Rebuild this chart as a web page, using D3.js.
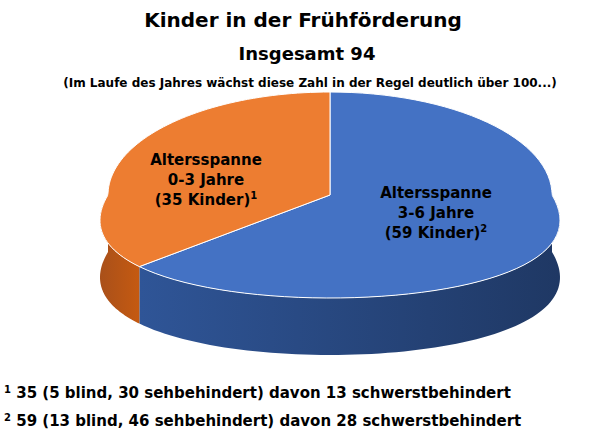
<!DOCTYPE html>
<html><head><meta charset="utf-8">
<script src="https://cdn.jsdelivr.net/npm/d3@7"></script>
<style>body{margin:0;background:#fff}text{font-family:"DejaVu Sans",sans-serif;font-weight:bold}</style>
</head><body>
<svg width="600" height="443"></svg>
<script>
var categories = ["3-6 Jahre", "0-3 Jahre"];
var values = [59, 35];
var labelLines = [["Altersspanne", "3-6 Jahre", "(59 Kinder)"], ["Altersspanne", "0-3 Jahre", "(35 Kinder)"]];
var footnoteMarks = ["2", "1"];
var footnotes = ["35 (5 blind, 30 sehbehindert) davon 13 schwerstbehindert",
                 "59 (13 blind, 46 sehbehindert) davon 28 schwerstbehindert"];

var svg = d3.select("svg");
var cx = 330, cy = 195, rx = 222, ry = 103, depth = 57, persp = 0.28;
var topColors = ["#4472c4", "#ed7d31"];
var sideColors = [["#1f3864", "#2f5597"], ["#a9501a", "#c55a11"]];

svg.append("text").attr("x", 303).attr("y", 27).attr("text-anchor", "middle").attr("font-size", 20).text("Kinder in der Frühförderung");
svg.append("text").attr("x", 307).attr("y", 60).attr("text-anchor", "middle").attr("font-size", 18).text("Insgesamt 94");
svg.append("text").attr("x", 310).attr("y", 87).attr("text-anchor", "middle").attr("font-size", 12).text("(Im Laufe des Jahres wächst diese Zahl in der Regel deutlich über 100...)");

var pie = d3.pie().sort(null).value(function(d) { return d; });
var arcs = pie(values);
// slight perspective: front of the pie drawn wider than the back
function pt(t, dy) {
  var c = Math.cos(t), s = Math.sin(t);
  var f = 1 - persp * Math.min(c, 0) + 0.1 * Math.max(-c, 0) * 0;
  return [cx + rx * s * f, cy - ry * c + (dy || 0)];
}
function arcPts(a0, a1, dy) {
  var n = 80, p = [];
  for (var i = 0; i <= n; i++) p.push(pt(a0 + (a1 - a0) * i / n, dy));
  return p;
}
var defs = svg.append("defs");
sideColors.forEach(function(c, i) {
  var g = defs.append("linearGradient").attr("id", "side" + i).attr("x1", 0).attr("x2", 1).attr("y1", 0).attr("y2", 0);
  g.append("stop").attr("offset", "0%").attr("stop-color", i == 0 ? c[1] : c[0]);
  g.append("stop").attr("offset", "100%").attr("stop-color", i == 0 ? c[0] : c[1]);
});
var line = d3.line();
arcs.forEach(function(a, i) {
  var s = Math.max(a.startAngle, Math.PI / 2), e = Math.min(a.endAngle, 3 * Math.PI / 2);
  if (e <= s) return;
  var p = arcPts(s, e, 0).concat(arcPts(e, s, depth));
  svg.append("path").attr("d", line(p) + "Z").attr("fill", "url(#side" + i + ")");
});
arcs.forEach(function(a, i) {
  var p = [[cx, cy]].concat(arcPts(a.startAngle, a.endAngle, 0));
  svg.append("path").attr("d", line(p) + "Z").attr("fill", topColors[i]).attr("stroke", "#fff").attr("stroke-width", 1);
});
var labelPos = [[436, 198], [206, 165]];
labelLines.forEach(function(lines, i) {
  var t = svg.append("text").attr("text-anchor", "middle").attr("font-size", 15).attr("fill", "#000");
  lines.forEach(function(l, j) {
    t.append("tspan").attr("x", labelPos[i][0]).attr("y", labelPos[i][1] + j * 20).text(l);
    if (j == lines.length - 1) t.append("tspan").attr("dy", -6).attr("font-size", 10).text(footnoteMarks[i]);
  });
});
footnotes.forEach(function(f, i) {
  var t = svg.append("text").attr("x", 4).attr("y", 398 + i * 28).attr("font-size", 15);
  t.append("tspan").attr("font-size", 10).attr("dy", -5).text(i + 1);
  t.append("tspan").attr("dy", 5).text(" " + f);
});
</script>
</body></html>
